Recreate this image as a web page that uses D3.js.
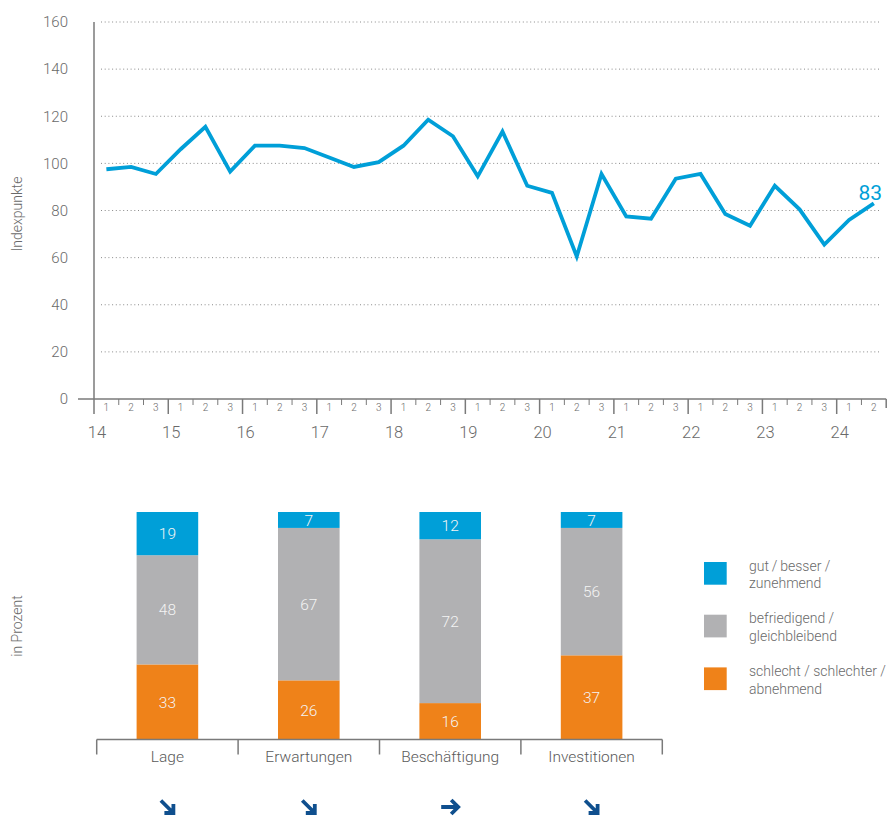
<!DOCTYPE html>
<html>
<head>
<meta charset="utf-8">
<script src="https://cdn.jsdelivr.net/npm/d3@7"></script>
<style>
  html, body { margin: 0; padding: 0; background: #fff; }
  svg { display: block; font-family: Roboto, "Noto Sans", sans-serif; font-weight: 300; }
</style>
</head>
<body>
<svg id="chart" width="890" height="817"></svg>
<script>
// ---------- data ----------
const years = ["14","15","16","17","18","19","20","21","22","23","24"];
const periods = ["1","2","3"];
const indexValues = [97.5, 98.5, 95.5, 106, 115.5, 96.5, 107.5, 107.5, 106.5, 102.5, 98.5, 100.5,
                     107.5, 118.5, 111.5, 94.5, 113.5, 90.5, 87.5, 60.5, 95.5, 77.5, 76.5, 93.5,
                     95.5, 78.5, 73.5, 90.5, 80.5, 65.5, 76, 83];
const lastLabel = "83";
const yTicks = [0, 20, 40, 60, 80, 100, 120, 140, 160];

const categories = ["Lage", "Erwartungen", "Beschäftigung", "Investitionen"];
const good    = [19, 7, 12, 7];
const neutral = [48, 67, 72, 56];
const bad     = [33, 26, 16, 37];
const trends  = ["down", "down", "right", "down"];
const legendLabels = [["gut\u2009/\u2009besser /", "zunehmend"], ["befriedigend /", "gleichbleibend"], ["schlecht / schlechter /", "abnehmend"]];

// ---------- styles ----------
const BLUE = "#009fd8", GRAY = "#b1b1b3", ORANGE = "#ef8219", ARROW = "#0f4f8e";
const TXT = "#6a6a6a", AXIS = "#7a7a7a";

const svg = d3.select("#chart");

// ================= line chart =================
const nPer = indexValues.length;
const x = d3.scaleLinear().domain([0, nPer]).range([94, 886.2]);
const y = d3.scaleLinear().domain([0, 160]).range([399, 22]);

// gridlines
svg.append("g").selectAll("line").data(yTicks.filter(d => d > 0)).join("line")
  .attr("x1", 101).attr("x2", 880)
  .attr("y1", d => y(d)).attr("y2", d => y(d))
  .attr("stroke", "#8a8a8a").attr("stroke-width", 1)
  .attr("stroke-dasharray", "1,2.7");

// y axis labels
const yAx = svg.append("g").attr("transform", "translate(94,0)")
  .call(d3.axisLeft(y).tickValues(yTicks).tickSize(0).tickPadding(26).tickFormat(d3.format("d")));
yAx.select(".domain").remove();
yAx.selectAll("text").attr("font-size", 15).attr("fill", TXT).attr("font-family", "Roboto").attr("font-weight", 300);

// y axis line
svg.append("line").attr("x1", 94).attr("x2", 94).attr("y1", y(160)).attr("y2", y(0))
  .attr("stroke", AXIS).attr("stroke-width", 1.5);
// x axis line
svg.append("line").attr("x1", 78).attr("x2", x(nPer)).attr("y1", y(0)).attr("y2", y(0))
  .attr("stroke", AXIS).attr("stroke-width", 1.5);

// ticks
const tickIdx = d3.range(0, nPer + 1);
svg.append("g").selectAll("line").data(tickIdx).join("line")
  .attr("x1", d => x(d)).attr("x2", d => x(d))
  .attr("y1", y(0))
  .attr("y2", d => d === nPer ? y(0) + 9 : (d % 3 === 0 ? y(0) + 15 : y(0) + 6))
  .attr("stroke", AXIS).attr("stroke-width", d => d % 3 === 0 || d === nPer ? 1.5 : 1);

// period labels
svg.append("g").selectAll("text").data(d3.range(nPer)).join("text")
  .attr("x", d => x(d + 0.5)).attr("y", y(0) + 11.5)
  .attr("text-anchor", "middle").attr("font-size", 10).attr("fill", TXT)
  .text(d => periods[d % 3]);

// year labels
svg.append("g").selectAll("text").data(years).join("text")
  .attr("x", (d, i) => x(i * 3) + 3).attr("y", 438)
  .attr("text-anchor", "middle").attr("font-size", 16.5).attr("fill", TXT)
  .text(d => d);

// y title
svg.append("text").attr("transform", "translate(22,214) rotate(-90)")
  .attr("text-anchor", "middle").attr("font-size", 14).attr("fill", TXT)
  .text("Indexpunkte");

// line
svg.append("path").datum(indexValues)
  .attr("d", d3.line().x((d, i) => x(i + 0.5)).y(d => y(d)))
  .attr("fill", "none").attr("stroke", BLUE).attr("stroke-width", 3.8)
  .attr("stroke-linejoin", "miter");

svg.append("text").attr("x", 882).attr("y", 200).attr("text-anchor", "end")
  .attr("font-size", 21).attr("font-weight", 400).attr("fill", BLUE).text(lastLabel);

// ================= stacked bars =================
const xb = d3.scaleBand().domain(categories).range([96.7, 662.3]).padding(0);
const yb = d3.scaleLinear().domain([0, 100]).range([739.5, 512]);
const barW = 61.6;

const rows = categories.map((c, i) => ({cat: c, bad: bad[i], neutral: neutral[i], good: good[i]}));
const keys = ["bad", "neutral", "good"];
const colors = {bad: ORANGE, neutral: GRAY, good: BLUE};
const stacked = d3.stack().keys(keys)(rows);

const layers = svg.append("g").selectAll("g").data(stacked).join("g")
  .attr("fill", d => colors[d.key]);
layers.selectAll("rect").data(d => d).join("rect")
  .attr("x", d => xb(d.data.cat) + (xb.bandwidth() - barW) / 2)
  .attr("width", barW)
  .attr("y", d => yb(d[1]))
  .attr("height", d => yb(d[0]) - yb(d[1]));

const labelG = svg.append("g");
stacked.forEach(layer => {
  labelG.selectAll(null).data(layer).join("text")
    .attr("x", d => xb(d.data.cat) + xb.bandwidth() / 2)
    .attr("y", d => (yb(d[0]) + yb(d[1])) / 2)
    .attr("dy", "0.36em")
    .attr("text-anchor", "middle").attr("font-size", 15.5).attr("fill", "#f4f4f4")
    .text(d => d.data[layer.key]);
});

// category axis
svg.append("line").attr("x1", xb.range()[0]).attr("x2", xb.range()[1])
  .attr("y1", yb(0)).attr("y2", yb(0)).attr("stroke", AXIS).attr("stroke-width", 1.5);
const bounds = categories.map(c => xb(c)).concat([xb.range()[1]]);
svg.append("g").selectAll("line").data(bounds).join("line")
  .attr("x1", d => d).attr("x2", d => d).attr("y1", yb(0)).attr("y2", yb(0) + 15)
  .attr("stroke", AXIS).attr("stroke-width", 1.5);
svg.append("g").selectAll("text").data(categories).join("text")
  .attr("x", d => xb(d) + xb.bandwidth() / 2).attr("y", 762)
  .attr("text-anchor", "middle").attr("font-size", 15.5).attr("fill", "#5a5a5a")
  .text(d => d);

svg.append("text").attr("transform", "translate(22,626) rotate(-90)")
  .attr("text-anchor", "middle").attr("font-size", 14).attr("fill", TXT)
  .text("in Prozent");

// trend arrows
const arrowPaths = {
  down: "M-6.5,-6.5 L5.5,5.5 M6,-3 L6,6 L-3,6",
  right: "M-9,0 L7.5,0 M1,-7 L8,0 L1,7"
};
svg.append("g").selectAll("path").data(categories).join("path")
  .attr("transform", d => `translate(${xb(d) + xb.bandwidth() / 2},807)`)
  .attr("d", (d, i) => arrowPaths[trends[i]])
  .attr("fill", "none").attr("stroke", ARROW).attr("stroke-width", 3.8)
  .attr("stroke-linejoin", "miter").attr("stroke-linecap", "butt");

// legend
const legendKeys = ["good", "neutral", "bad"];
const lg = svg.append("g").selectAll("g").data(legendKeys).join("g")
  .attr("transform", (d, i) => `translate(704,${562 + i * 52.7})`);
lg.append("rect").attr("width", 22.7).attr("height", 22.7).attr("fill", d => colors[d]);
lg.each(function(d, i) {
  const t = d3.select(this).append("text").attr("font-size", 14).attr("fill", TXT);
  legendLabels[i].forEach((line, j) => {
    t.append("tspan").attr("x", 45).attr("y", 8.5 + j * 17.7).text(line);
  });
});
</script>
</body>
</html>
